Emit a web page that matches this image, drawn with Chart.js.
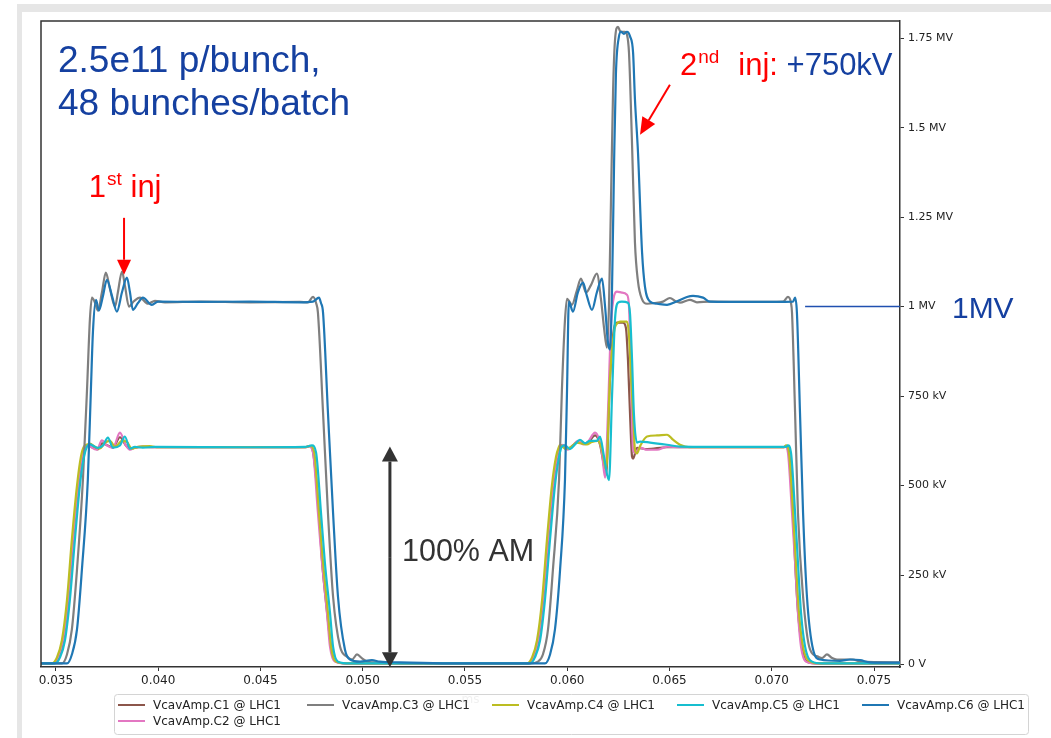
<!DOCTYPE html>
<html>
<head>
<meta charset="utf-8">
<title>VcavAmp LHC1</title>
<script src="https://cdn.jsdelivr.net/npm/chart.js@4.4.1/dist/chart.umd.min.js"></script>
<style>
  body { margin: 0; background: #fff; }
</style>
</head>
<body>
<canvas id="vcav_chart" width="1051" height="738"></canvas>
<script>
// time in ms, amplitude in kV
const names = ['VcavAmp.C1 @ LHC1', 'VcavAmp.C2 @ LHC1', 'VcavAmp.C3 @ LHC1',
               'VcavAmp.C4 @ LHC1', 'VcavAmp.C5 @ LHC1', 'VcavAmp.C6 @ LHC1'];

const xTicks = [0.035, 0.040, 0.045, 0.050, 0.055, 0.060, 0.065, 0.070, 0.075];
const yTicks = [0, 250, 500, 750, 1000, 1250, 1500, 1750];
const yTickLabels = ['0 V', '250 kV', '500 kV', '750 kV', '1 MV', '1.25 MV', '1.5 MV', '1.75 MV'];

// C1
const t1 = [0.03427,0.03485,0.03510,0.03534,0.03559,0.03583,0.03608,0.03627,0.03642,0.03661,0.03676,0.03705,0.03725,0.03754,0.03779,0.03813,0.03842,0.03862,0.03886,0.03925,0.03984,0.04449,0.04718,0.04742,0.04757,0.04786,0.04801,0.04825,0.04845,0.04864,0.04913,0.05426,
            0.05808,0.05833,0.05857,0.05881,0.05906,0.05930,0.05950,0.05965,0.05979,0.06003,0.06028,0.06052,0.06077,0.06101,0.06136,0.06160,0.06175,0.06190,0.06209,0.06229,0.06243,0.06272,0.06287,0.06297,0.06307,0.06317,0.06322,0.06341,0.06390,0.06488,0.06894,0.07060,0.07070,0.07084,0.07104,0.07114,0.07128,0.07148,0.07167,0.07211,0.07627];
const v1 = [3,3,18,62,175,345,495,578,607,612,607,601,618,612,606,635,612,602,606,608,607,607,607,610,594,424,290,150,50,10,3,3,
            3,18,62,175,345,495,578,607,612,602,612,622,618,620,640,615,570,530,800,940,955,955,940,850,700,580,575,605,602,607,607,607,610,594,424,290,150,50,10,3,3];
// C2
const t2 = [0.03427,0.03485,0.03510,0.03534,0.03559,0.03583,0.03608,0.03627,0.03642,0.03661,0.03676,0.03700,0.03725,0.03749,0.03779,0.03813,0.03842,0.03862,0.03886,0.03925,0.03984,0.04449,0.04718,0.04737,0.04757,0.04781,0.04801,0.04825,0.04840,0.04864,0.04913,0.05426,
            0.05808,0.05833,0.05857,0.05881,0.05906,0.05930,0.05950,0.05965,0.05979,0.06003,0.06028,0.06052,0.06077,0.06101,0.06136,0.06155,0.06170,0.06185,0.06199,0.06214,0.06229,0.06243,0.06267,0.06292,0.06302,0.06312,0.06322,0.06331,0.06356,0.06390,0.06439,0.06488,0.06551,0.06894,0.07060,0.07065,0.07079,0.07099,0.07114,0.07128,0.07143,0.07167,0.07211,0.07627];
const v2 = [3,3,20,67,180,350,500,580,609,614,606,600,626,612,605,648,612,600,606,609,607,607,607,610,592,424,285,145,50,8,3,3,
            3,20,67,180,350,500,580,609,614,600,612,625,615,622,648,630,590,522,700,950,1030,1042,1039,1033,1000,800,600,592,606,600,600,609,607,607,607,610,592,424,285,145,50,8,3,3];
// C3
const t3 = [0.03427,0.03529,0.03554,0.03578,0.03603,0.03632,0.03652,0.03666,0.03676,0.03691,0.03705,0.03725,0.03744,0.03764,0.03789,0.03803,0.03823,0.03837,0.03857,0.03881,0.03911,0.03950,0.03984,0.04033,0.04204,0.04449,0.04693,0.04732,0.04757,0.04772,0.04781,0.04806,0.04830,0.04855,0.04889,0.04923,0.04948,0.04972,0.04997,0.05021,0.05084,0.05426,
            0.05818,0.05857,0.05881,0.05906,0.05930,0.05960,0.05974,0.05989,0.05999,0.06023,0.06047,0.06067,0.06092,0.06116,0.06145,0.06165,0.06180,0.06194,0.06204,0.06214,0.06224,0.06233,0.06248,0.06258,0.06267,0.06282,0.06292,0.06302,0.06317,0.06331,0.06346,0.06366,0.06390,0.06429,0.06468,0.06502,0.06532,0.06551,0.06600,0.06634,0.06698,0.06894,0.07055,0.07079,0.07094,0.07099,0.07114,0.07128,0.07153,0.07187,0.07226,0.07246,0.07270,0.07295,0.07319,0.07397,0.07432,0.07627];
const v3 = [3,3,28,98,265,517,768,963,1025,1011,989,1040,1095,1050,1000,1040,1098,1060,1000,1015,1025,1008,1016,1012,1014,1012,1013,1012,1027,1010,983,704,424,190,50,22,14,28,17,8,5,3,
            3,8,28,98,265,517,768,963,1022,1005,1045,1078,1039,1060,1092,1020,940,885,1000,1300,1600,1740,1782,1770,1768,1768,1760,1709,1450,1180,1070,1020,1008,1010,1014,1024,1014,1011,1019,1012,1014,1013,1014,1027,1010,983,704,424,190,42,22,18,28,18,14,14,8,6];
// C4
const t4 = [0.03427,0.03480,0.03505,0.03529,0.03554,0.03578,0.03603,0.03622,0.03637,0.03656,0.03666,0.03691,0.03715,0.03740,0.03764,0.03789,0.03823,0.03847,0.03871,0.03901,0.03959,0.04000,0.04449,0.04718,0.04742,0.04762,0.04786,0.04806,0.04830,0.04845,0.04869,0.04923,0.05426,
            0.05803,0.05828,0.05852,0.05877,0.05901,0.05925,0.05945,0.05960,0.05965,0.05994,0.06018,0.06047,0.06072,0.06096,0.06121,0.06150,0.06170,0.06190,0.06209,0.06229,0.06248,0.06258,0.06292,0.06302,0.06312,0.06322,0.06331,0.06341,0.06356,0.06390,0.06439,0.06488,0.06517,0.06551,0.06600,0.06894,0.07060,0.07070,0.07084,0.07104,0.07118,0.07133,0.07153,0.07187,0.07236,0.07627];
const v4 = [3,3,20,67,180,350,500,580,609,615,617,608,604,620,625,608,625,622,603,608,610,607,607,607,611,596,424,285,145,50,8,3,3,
            3,20,67,180,350,500,580,609,614,602,608,620,617,615,622,625,600,545,800,930,955,958,958,920,800,700,600,590,610,637,640,642,628,614,607,607,607,612,592,424,285,145,50,8,3,3];
// C5
const t5 = [0.03427,0.03495,0.03520,0.03544,0.03568,0.03593,0.03617,0.03637,0.03652,0.03666,0.03686,0.03705,0.03730,0.03754,0.03779,0.03813,0.03837,0.03862,0.03886,0.03925,0.03984,0.04449,0.04718,0.04752,0.04772,0.04796,0.04815,0.04840,0.04855,0.04879,0.04938,0.05426,
            0.05818,0.05842,0.05867,0.05891,0.05916,0.05940,0.05960,0.05974,0.05989,0.06013,0.06038,0.06062,0.06087,0.06111,0.06145,0.06160,0.06180,0.06204,0.06219,0.06233,0.06248,0.06267,0.06297,0.06307,0.06317,0.06326,0.06341,0.06356,0.06405,0.06488,0.06551,0.06894,0.07070,0.07079,0.07094,0.07114,0.07128,0.07143,0.07163,0.07197,0.07246,0.07627];
const v5 = [3,3,20,67,180,350,500,580,609,615,610,605,612,634,606,612,637,603,608,606,608,607,608,612,592,424,285,145,50,8,3,3,
            3,20,67,180,350,500,580,609,612,602,615,628,618,625,625,637,580,515,750,960,1011,1014,1011,980,850,700,620,623,620,614,609,608,608,612,592,424,285,145,50,8,3,3];
// C6
const t6 = [0.03427,0.03554,0.03578,0.03603,0.03627,0.03656,0.03671,0.03681,0.03696,0.03710,0.03730,0.03749,0.03774,0.03798,0.03823,0.03847,0.03862,0.03876,0.03901,0.03925,0.03969,0.04000,0.04204,0.04449,0.04693,0.04757,0.04786,0.04796,0.04806,0.04830,0.04855,0.04879,0.04913,0.04938,0.04987,0.05045,0.05084,0.05182,0.05426,
            0.05891,0.05916,0.05940,0.05965,0.05989,0.05999,0.06008,0.06028,0.06052,0.06077,0.06096,0.06121,0.06145,0.06170,0.06185,0.06199,0.06209,0.06219,0.06229,0.06238,0.06253,0.06263,0.06277,0.06292,0.06307,0.06322,0.06331,0.06346,0.06366,0.06380,0.06405,0.06439,0.06488,0.06537,0.06585,0.06615,0.06664,0.06698,0.06894,0.07104,0.07114,0.07123,0.07138,0.07153,0.07172,0.07202,0.07236,0.07334,0.07383,0.07432,0.07481,0.07627];
const v6 = [3,3,28,98,265,517,768,930,1019,989,1030,1075,1030,986,1040,1081,1040,991,1010,1025,1005,1014,1013,1014,1012,1014,1025,1010,983,704,424,190,42,14,8,12,8,6,3,
            3,28,98,265,517,768,1014,986,1040,1067,1030,991,1040,1078,1000,900,880,1050,1400,1650,1755,1768,1762,1768,1755,1709,1580,1430,1150,1056,1014,1008,1005,1015,1027,1030,1025,1014,1013,1014,1025,983,704,424,190,42,14,10,14,12,6,5];

const times = [t1, t2, t3, t4, t5, t6];
const values = [v1, v2, v3, v4, v5, v6];
const colors = ['#8c564b', '#e377c2', '#7f7f7f', '#bcbd22', '#17becf', '#1f77b4'];
const drawOrder = [5, 4, 2, 3, 1, 0];

const datasets = names.map(function(n, i) {
    return {
        label: n,
        data: times[i].map(function(t, j) { return { x: t, y: values[i][j] }; }),
        borderColor: colors[i],
        backgroundColor: colors[i],
        borderWidth: 2.2,
        pointRadius: 0,
        cubicInterpolationMode: 'monotone',
        order: drawOrder[i]
    };
});

const RED = '#ff0000';
const NAVY = '#1540a0';

function arrow(ctx, x0, y0, x1, y1, headLen, headW, color, lw) {
    const a = Math.atan2(y1 - y0, x1 - x0);
    const bx = x1 - headLen * Math.cos(a), by = y1 - headLen * Math.sin(a);
    ctx.strokeStyle = color; ctx.fillStyle = color; ctx.lineWidth = lw;
    ctx.beginPath(); ctx.moveTo(x0, y0); ctx.lineTo(bx, by); ctx.stroke();
    ctx.beginPath();
    ctx.moveTo(x1, y1);
    ctx.lineTo(bx + headW / 2 * Math.sin(a), by - headW / 2 * Math.cos(a));
    ctx.lineTo(bx - headW / 2 * Math.sin(a), by + headW / 2 * Math.cos(a));
    ctx.closePath(); ctx.fill();
}

function runs(ctx, x, y, parts) {
    parts.forEach(function(p) {
        ctx.font = p.size + 'px "Liberation Sans", Arial, sans-serif';
        ctx.fillStyle = p.color;
        ctx.textBaseline = 'alphabetic';
        ctx.textAlign = 'left';
        x += p.gap || 0;
        ctx.fillText(p.text, x, y - (p.rise || 0));
        x += ctx.measureText(p.text).width;
    });
}

const decorations = {
    id: 'decorations',
    beforeDraw: function(chart) {
        const ctx = chart.ctx;
        ctx.save();
        ctx.fillStyle = '#fff';
        ctx.fillRect(0, 0, chart.width, chart.height);
        ctx.fillStyle = '#e6e6e6';
        ctx.fillRect(17, 4, chart.width - 17, 8);
        ctx.fillRect(17, 4, 5, chart.height - 4);
        ctx.restore();
    },
    afterDatasetsDraw: function(chart) {
        const ctx = chart.ctx, a = chart.chartArea;
        ctx.save();
        ctx.strokeStyle = '#333';
        ctx.lineWidth = 1.5;
        ctx.beginPath();
        ctx.moveTo(a.left, a.bottom); ctx.lineTo(a.left, a.top); ctx.lineTo(a.right, a.top);
        ctx.stroke();
        ctx.restore();
    },
    afterDraw: function(chart) {
        const ctx = chart.ctx, xs = chart.scales.x, ys = chart.scales.y;
        const X = function(v) { return xs.getPixelForValue(v); };
        const Y = function(v) { return ys.getPixelForValue(v); };
        ctx.save();

        // legend box
        ctx.globalAlpha = 0.75;
        ctx.fillStyle = '#fff';
        ctx.strokeStyle = '#d4d4d4';
        ctx.lineWidth = 1;
        ctx.beginPath();
        ctx.roundRect(114.5, 694.5, 914, 40, 3);
        ctx.fill();
        ctx.globalAlpha = 1;
        ctx.stroke();
        const slots = [[118, 705], [118, 721], [307, 705], [492, 705], [677, 705], [862, 705]];
        ctx.font = '12px "DejaVu Sans", sans-serif';
        ctx.textBaseline = 'middle';
        ctx.textAlign = 'left';
        names.forEach(function(n, i) {
            const s = slots[i];
            ctx.strokeStyle = colors[i];
            ctx.lineWidth = 2;
            ctx.beginPath(); ctx.moveTo(s[0], s[1]); ctx.lineTo(s[0] + 27, s[1]); ctx.stroke();
            ctx.fillStyle = '#222';
            ctx.fillText(n, s[0] + 35, s[1] + 1);
        });

        // notes
        ctx.font = '37px "Liberation Sans", Arial, sans-serif';
        ctx.fillStyle = NAVY;
        ctx.textBaseline = 'alphabetic';
        ctx.fillText('2.5e11 p/bunch,', X(0.03510), Y(1656));
        ctx.fillText('48 bunches/batch', X(0.03510), Y(1536));

        runs(ctx, X(0.03661), Y(1307), [
            { text: '1', size: 31, color: RED },
            { text: 'st', size: 19, color: RED, rise: 12, gap: 1 },
            { text: ' inj', size: 31, color: RED }
        ]);
        arrow(ctx, X(0.03833), Y(1248), X(0.03833), Y(1089), 15, 14, RED, 2);

        runs(ctx, X(0.06551), Y(1648), [
            { text: '2', size: 31, color: RED },
            { text: 'nd', size: 19, color: RED, rise: 12, gap: 1 },
            { text: 'inj:', size: 31, color: RED, gap: 19 },
            { text: ' +750kV', size: 31, color: NAVY }
        ]);
        arrow(ctx, X(0.06502), Y(1620), X(0.06356), Y(1480), 17, 15, RED, 2);

        ctx.strokeStyle = '#2050b0';
        ctx.lineWidth = 1.5;
        ctx.beginPath(); ctx.moveTo(X(0.07163), Y(1000)); ctx.lineTo(X(0.07627), Y(1000)); ctx.stroke();
        ctx.font = '30px "Liberation Sans", Arial, sans-serif';
        ctx.fillStyle = NAVY;
        ctx.fillText('1MV', X(0.07881), Y(969));

        // modulation depth
        const ax = X(0.05133);
        arrow(ctx, ax, Y(300), ax, Y(609), 15, 16, '#333', 3);
        arrow(ctx, ax, Y(300), ax, Y(-8), 15, 16, '#333', 3);
        ctx.font = '30.5px "Liberation Sans", Arial, sans-serif';
        ctx.fillStyle = '#333';
        ctx.fillText('100% AM', X(0.05192), Y(290));
        ctx.restore();
    }
};

new Chart(document.getElementById('vcav_chart'), {
    type: 'line',
    data: { datasets: datasets },
    options: {
        responsive: false,
        animation: false,
        layout: { padding: { left: 41, top: 21, right: 0, bottom: 0 } },
        plugins: { legend: { display: false }, tooltip: { enabled: false } },
        scales: {
            x: {
                type: 'linear',
                position: 'bottom',
                min: 0.03427,
                max: 0.07627,
                afterBuildTicks: function(s) { s.ticks = xTicks.map(function(v) { return { value: v }; }); },
                afterFit: function(s) { s.height = 71; },
                grid: { drawOnChartArea: false, drawTicks: true, tickLength: 4, tickColor: '#333', tickWidth: 1 },
                border: { display: true, color: '#333', width: 1.5 },
                ticks: {
                    autoSkip: false, maxRotation: 0, padding: 3, color: '#222',
                    font: { family: 'DejaVu Sans', size: 12 },
                    callback: function(v) { return v.toFixed(3); }
                },
                title: {
                    display: true, text: 'ms', color: '#c4c4c4',
                    font: { family: 'DejaVu Sans', size: 12 },
                    padding: { top: 0, bottom: 31 }
                }
            },
            y: {
                type: 'linear',
                position: 'right',
                min: -7,
                max: 1798,
                afterBuildTicks: function(s) { s.ticks = yTicks.map(function(v) { return { value: v }; }); },
                afterFit: function(s) { s.width = 151; },
                grid: { drawOnChartArea: false, drawTicks: true, tickLength: 4, tickColor: '#333', tickWidth: 1 },
                border: { display: true, color: '#333', width: 1.5 },
                ticks: {
                    autoSkip: false, padding: 4, color: '#222',
                    font: { family: 'DejaVu Sans', size: 11 },
                    callback: function(v, i) { return yTickLabels[i]; }
                }
            }
        }
    },
    plugins: [decorations]
});
</script>
</body>
</html>
